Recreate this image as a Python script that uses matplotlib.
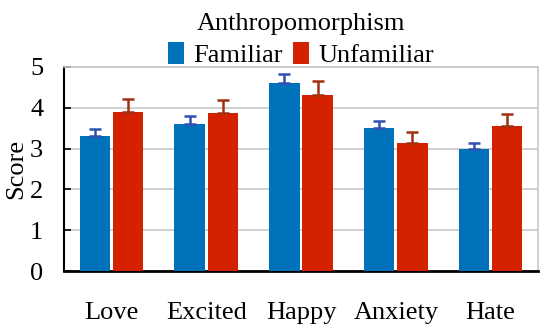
import matplotlib
matplotlib.use("Agg")
import matplotlib.pyplot as plt
import numpy as np

categories = ["Love", "Excited", "Happy", "Anxiety", "Hate"]
familiar = [3.31, 3.60, 4.61, 3.51, 2.98]
familiar_err = [0.17, 0.20, 0.23, 0.17, 0.16]
unfamiliar = [3.90, 3.88, 4.31, 3.14, 3.55]
unfamiliar_err = [0.32, 0.31, 0.35, 0.27, 0.31]
yticks = [0, 1, 2, 3, 4, 5]

plt.rcParams['font.family'] = ['Liberation Serif', 'DejaVu Serif']

fig = plt.figure(figsize=(5.5, 3.33), dpi=100)
ax = fig.add_axes([64/550, 1 - 271/333, 474/550, 204/333])

x = np.arange(len(categories))
w = 0.32
off = 0.175
blue = "#0072BC"
red = "#D42200"
zeros = [0] * len(categories)
ax.bar(x - off, familiar, w, color=blue, label="Familiar", zorder=3,
       yerr=[zeros, familiar_err], error_kw=dict(ecolor="#3050B0", capsize=4, elinewidth=1.8, capthick=1.8, zorder=4))
ax.bar(x + off, unfamiliar, w, color=red, label="Unfamiliar", zorder=3,
       yerr=[zeros, unfamiliar_err], error_kw=dict(ecolor="#A03010", capsize=4, elinewidth=1.8, capthick=1.8, zorder=4))

fs = 19
ax.set_xlim(-0.5, 4.5)
ax.set_ylim(0, 5)
ax.set_yticks(yticks)
ax.set_yticklabels([str(t) for t in yticks], fontsize=fs)
ax.set_xticks(x)
ax.set_xticklabels(categories, fontsize=fs)
ax.tick_params(axis='x', length=0, pad=22)
ax.tick_params(axis='y', length=5, width=1.2, pad=15, direction='in')
ax.yaxis.grid(True, color="#C8C8C8", linewidth=1.2, zorder=0)
ax.set_axisbelow(True)
ax.set_ylabel("Score", fontsize=fs)
ax.yaxis.set_label_coords(-(64 - 27) / 474, 0.5)
for s in ["top", "right"]:
    ax.spines[s].set_color("#C8C8C8")
    ax.spines[s].set_linewidth(1.2)
for s in ["left", "bottom"]:
    ax.spines[s].set_color("black")
ax.spines["left"].set_linewidth(1.5)
ax.spines["bottom"].set_linewidth(2)

leg = ax.legend(title="Anthropomorphism", ncol=2, frameon=False, fontsize=fs,
                title_fontsize=fs, loc="lower center", bbox_to_anchor=(0.5, 1.0),
                handlelength=0.6, handleheight=0.9, handletextpad=0.35, columnspacing=0.4,
                borderpad=0.0, labelspacing=0.25, borderaxespad=0.0)

fig.savefig("out.png", dpi=100)
